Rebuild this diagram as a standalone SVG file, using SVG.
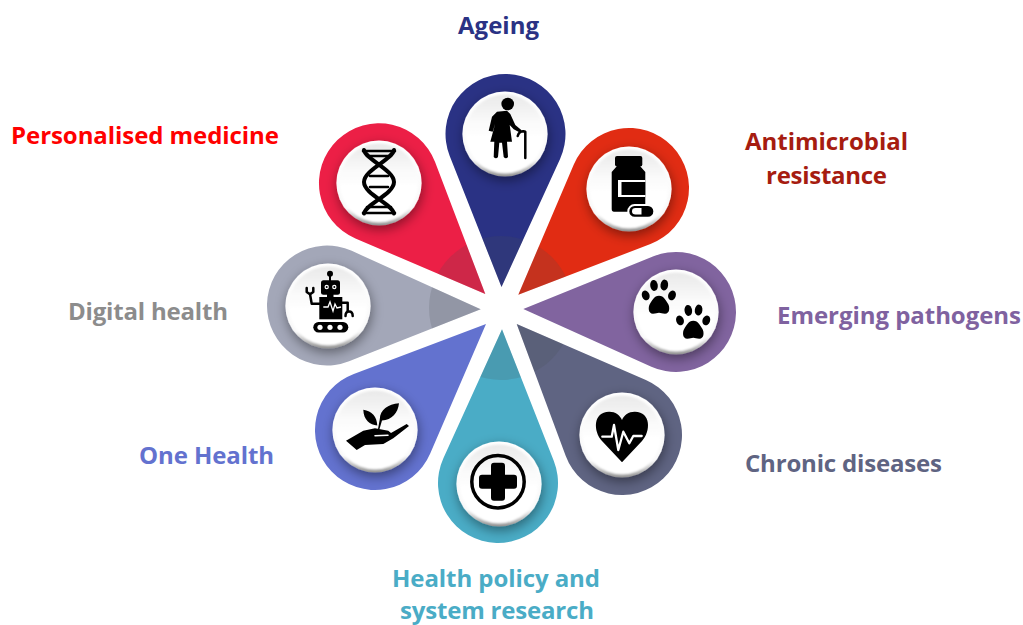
<svg xmlns="http://www.w3.org/2000/svg" width="1023" height="625" viewBox="0 0 1023 625">
<style>
.t{font-family:"Open Sans","Liberation Sans",sans-serif;font-weight:700;font-size:24px;text-anchor:middle}
.ring{filter:url(#sh)}
.ic{fill:#000}
.w{fill:#fff}
.ln{fill:none;stroke:#000;stroke-linecap:round;stroke-linejoin:round}
.wl{fill:none;stroke:#fff;stroke-linecap:round;stroke-linejoin:round}
.ov{fill:#4a4f55;opacity:.18}
</style>
<defs>
<filter id="sh" x="-50%" y="-50%" width="200%" height="200%"><feDropShadow dx="1" dy="4" stdDeviation="6" flood-color="#000" flood-opacity=".42"/></filter>
<filter id="bl" x="-20%" y="-20%" width="140%" height="140%"><feGaussianBlur stdDeviation="1.2"/></filter>
<linearGradient id="rim" x1="0" y1="0" x2="0" y2="1"><stop offset="0" stop-color="#fff"/><stop offset=".8" stop-color="#f8f8f8"/><stop offset="1" stop-color="#8f8f8f"/></linearGradient>
<linearGradient id="face" x1="0" y1="0" x2="0" y2="1"><stop offset="0" stop-color="#e9e9e9"/><stop offset=".35" stop-color="#fafafa"/><stop offset=".55" stop-color="#fff"/></linearGradient>
<symbol id="knob" viewBox="-43 -43 86 86" overflow="visible"><circle class="ring" r="42.6" fill="url(#rim)"/><circle r="39.5" fill="url(#face)" filter="url(#bl)"/></symbol>
<g id="paw">
<path d="M0 -9C-5 -9 -7 -4 -9 -1C-11 2 -11 9 -6 9C-3 9 -2 8 0 8C2 8 3 9 6 9C11 9 11 2 9 -1C7 -4 5 -9 0 -9Z"/>
<ellipse cx="-13.300" cy="-9.300" rx="3.800" ry="5" transform="rotate(-20 -13.300 -9.300)"/>
<ellipse cx="-5" cy="-19.300" rx="3.800" ry="5.500" transform="rotate(-8 -5 -19.300)"/>
<ellipse cx="5.300" cy="-19.600" rx="3.800" ry="5.500" transform="rotate(8 5.300 -19.600)"/>
<ellipse cx="13" cy="-9.300" rx="3.800" ry="5" transform="rotate(20 13 -9.300)"/>
</g>
<clipPath id="c1"><path d="M501.500 287L449.710 156.070A60 60 0 1 1 560.070 158.950Z"/></clipPath>
<clipPath id="c2"><path d="M518.300 294.700L573.800 164.480A60 60 0 1 1 650.480 244.020Z"/></clipPath>
<clipPath id="c4"><path d="M516.700 324L645.860 379.950A60 60 0 1 1 565.760 455.910Z"/></clipPath>
<clipPath id="c5"><path d="M502 329.300L553.830 461.040A60 60 0 1 1 443.390 458.160Z"/></clipPath>
<clipPath id="c7"><path d="M480.700 309.300L349.050 361.300A60 60 0 1 1 351.770 250.860Z"/></clipPath>
<clipPath id="c8"><path d="M485.300 294L355.430 238.450A60 60 0 1 1 435.070 161.990Z"/></clipPath>
</defs>
<rect width="1023" height="625" fill="#fff"/>

<g id="connectors"></g>

<g id="node-ageing">
<path fill="#2a3284" d="M501.500 287L449.710 156.070A60 60 0 1 1 560.070 158.950Z"/>
<circle class="ov" cx="501" cy="308" r="72" clip-path="url(#c1)"/>
<use href="#knob" x="462" y="91" width="86" height="86"/>
<circle class="ic" cx="507.700" cy="104" r="6.300"/>
<path class="ic" d="M497 111.700L507 110.700L510.300 114L515.300 125L521.300 130L520.300 132.700L513.700 129.300L509.700 125L512 141.700L507 141.700L508 157Q506 159.500 503.700 157L502 142.700L499.300 142.700L498 157Q496 159.500 493.700 157L494.300 141.700L490.300 141.700L495.300 123.300L492.700 131.700L488.700 130.700L492 116.700Z"/>
<path class="ln" stroke-width="2.500" d="M517.700 136Q519 131 523.500 131.200L525.300 131.700L525.300 158"/>
<text class="t" x="498.500" y="34" fill="#2a3284" textLength="81" lengthAdjust="spacing">Ageing</text>
</g>

<g id="node-antimicrobial">
<path fill="#e12c13" d="M518.300 294.700L573.800 164.480A60 60 0 1 1 650.480 244.020Z"/>
<circle class="ov" cx="501" cy="308" r="72" clip-path="url(#c2)"/>
<use href="#knob" x="586" y="146" width="86" height="86"/>
<rect class="ic" x="615" y="156" width="27.300" height="10.500" rx="2"/>
<path class="ic" d="M617 166L640 166L645.300 172L645.300 208L630 208L628 211.700L614 211.700Q611.700 211.700 611.700 209L611.700 172Z"/>
<path class="w" d="M618 180H645.300V197H618Z"/>
<rect class="ic" x="621.500" y="182" width="23.800" height="13"/>
<rect class="ic" x="628.300" y="205" width="26" height="12.700" rx="6.300" stroke="#fff" stroke-width="2"/>
<path class="w" d="M641.500 208H635.500Q632 208 632 211.300Q632 214.500 635.500 214.500H641.500Z"/>
<text class="t" x="826.500" y="150" fill="#a61c10" textLength="163" lengthAdjust="spacing">Antimicrobial</text>
<text class="t" x="826.500" y="184" fill="#a61c10" textLength="121" lengthAdjust="spacing">resistance</text>
</g>

<g id="node-emerging">
<path fill="#81649f" d="M523.300 309L653.510 256.370A60 60 0 1 1 651.350 366.710Z"/>
<use href="#knob" x="633" y="269" width="86" height="86"/>
<use href="#paw" x="659" y="304.700"/>
<use href="#paw" x="693.300" y="329.700"/>
<text class="t" x="899" y="324" fill="#7f62a0" textLength="244" lengthAdjust="spacing">Emerging pathogens</text>
</g>

<g id="node-chronic">
<path fill="#5f6482" d="M516.700 324L645.860 379.950A60 60 0 1 1 565.760 455.910Z"/>
<circle class="ov" cx="501" cy="308" r="72" clip-path="url(#c4)"/>
<use href="#knob" x="579" y="392" width="86" height="86"/>
<path class="ic" d="M622 462.300L602 441C593 431 593 412 609 411.700C615 411.500 620 415 622 420C624 415 629 411.500 635 411.700C651 412 651 431 642 441Z"/>
<path class="wl" stroke-width="2.300" d="M602.300 436.700L611.700 436.700L614 425L618.300 450L623.300 431.700L629.300 443.300L633.300 436L641.700 436"/>
<text class="t" x="843.500" y="472" fill="#5f6482" textLength="197" lengthAdjust="spacing">Chronic diseases</text>
</g>

<g id="node-policy">
<path fill="#4aacc6" d="M502 329.300L553.830 461.040A60 60 0 1 1 443.390 458.160Z"/>
<circle class="ov" cx="501" cy="308" r="72" clip-path="url(#c5)"/>
<use href="#knob" x="456" y="441" width="86" height="86"/>
<circle class="ln" cx="498" cy="481.700" r="26.200" stroke-width="3.500"/>
<rect class="ic" x="491" y="462.700" width="14" height="38" rx="3"/>
<rect class="ic" x="479" y="474.700" width="38" height="14" rx="3"/>
<text class="t" x="496" y="587" fill="#4aacc6" textLength="208" lengthAdjust="spacing">Health policy and</text>
<text class="t" x="497" y="619" fill="#4aacc6" textLength="194" lengthAdjust="spacing">system research</text>
</g>

<g id="node-onehealth">
<path fill="#6372cf" d="M486 324L430.100 453.730A60 60 0 1 1 353.820 373.890Z"/>
<use href="#knob" x="332" y="387" width="86" height="86"/>
<path class="ic" d="M346 440.700L363.300 430.700L375 428.300L388.300 430.700L391 433L406.700 424L409 426L393.300 438.300L383.300 444L365 445L356.700 450Z"/>
<path class="wl" stroke-width="1.500" d="M375 435.700L388 435.200"/>
<path class="ic" d="M377.300 425.500C370 425 363.500 420 363.300 409.800C372 411 377 417 377.300 425.500ZM379.800 419C380 410 388 404 399 403.300C398 413 392 420 382 420.500L379.500 429L378 429Z"/>
<text class="t" x="206.500" y="464" fill="#6372cf" textLength="135" lengthAdjust="spacing">One Health</text>
</g>

<g id="node-digital">
<path fill="#a3a7b8" d="M480.700 309.300L349.050 361.300A60 60 0 1 1 351.770 250.860Z"/>
<circle class="ov" cx="501" cy="308" r="72" clip-path="url(#c7)"/>
<use href="#knob" x="285" y="263" width="86" height="86"/>
<g id="robot">
<circle class="ic" cx="330" cy="273.700" r="3"/>
<rect class="ic" x="329" y="274" width="2" height="7"/>
<rect class="ic" x="321" y="280.300" width="19" height="14.400" rx="2.500"/>
<circle class="w" cx="326.700" cy="287" r="2.200"/><circle class="w" cx="334.300" cy="287" r="2.200"/>
<circle class="ic" cx="326.700" cy="287" r="1"/><circle class="ic" cx="334.300" cy="287" r="1"/>
<rect class="ic" x="327" y="294" width="6.500" height="4"/>
<rect class="ic" x="319.300" y="297" width="23" height="22.300"/>
<path class="ln" stroke-width="2.500" d="M319.300 303.700L311.700 303.700L310 294"/>
<path class="ln" stroke-width="2.500" d="M306.700 288L306.700 292L310 294.300L313.300 292L313.300 288"/>
<path class="ln" stroke-width="2.500" d="M342.300 302.700L347.700 302.700L347.700 311"/>
<path class="ln" stroke-width="2.500" d="M345.500 316Q345.500 311.500 349 311.500Q352.700 311.500 352.700 316"/>
<path fill="none" stroke="#fff" stroke-width="1.300" d="M323.300 307L328 307L330 302L333 311L335 304L337 308L341 307"/>
<rect class="ic" x="313.300" y="322" width="35" height="10.500" rx="5.200"/>
<circle class="w" cx="320" cy="327.300" r="2.600"/><circle class="w" cx="330" cy="327.300" r="2.600"/><circle class="w" cx="340" cy="327.300" r="2.600"/>
</g>
<text class="t" x="148" y="320" fill="#8c8c8c" textLength="160" lengthAdjust="spacing">Digital health</text>
</g>

<g id="node-personalised">
<path fill="#ec1f46" d="M485.300 294L355.430 238.450A60 60 0 1 1 435.070 161.990Z"/>
<circle class="ov" cx="501" cy="308" r="72" clip-path="url(#c8)"/>
<use href="#knob" x="336" y="140" width="86" height="86"/>
<path class="ln" stroke-width="4" stroke-linecap="butt" d="M364 150C366 160 394 170 394 182C394 194 366 204 364 213.500M394 150C392 160 364 170 364 182C364 194 392 204 394 213.500"/>
<path class="ln" stroke-width="2.600" stroke-linecap="butt" d="M367 156H391M370 176H388M370 187H388M367 207H391M363 213H395M363 151H395"/>
<text class="t" x="145" y="144" fill="#f00" textLength="268" lengthAdjust="spacing">Personalised medicine</text>
</g>
</svg>
